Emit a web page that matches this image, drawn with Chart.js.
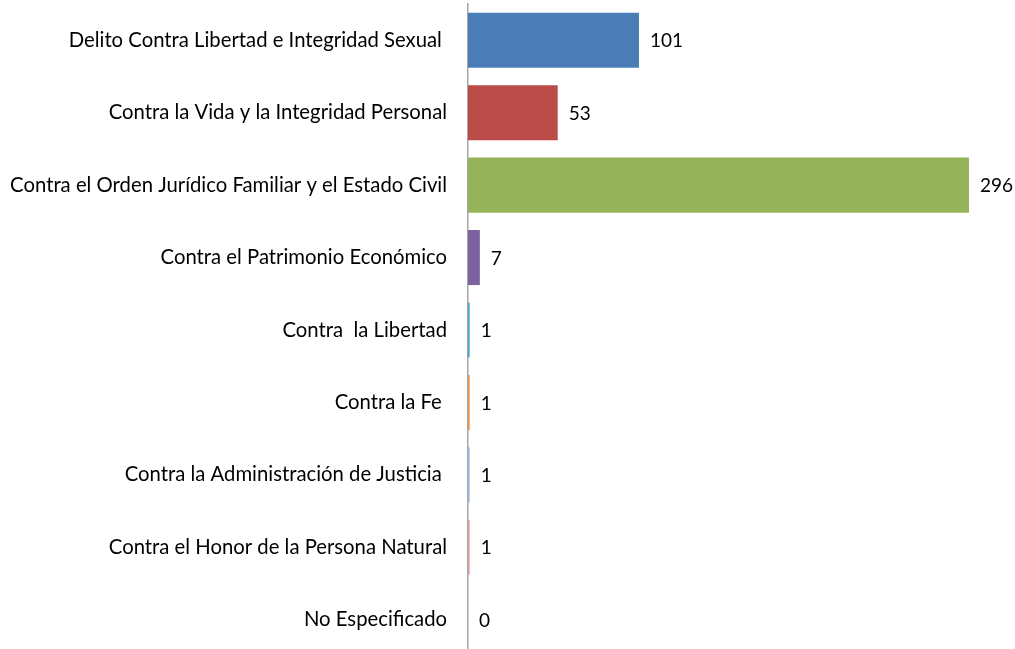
<!DOCTYPE html>
<html>
<head>
<meta charset="utf-8">
<script src="https://cdn.jsdelivr.net/npm/chart.js@4.4.0/dist/chart.umd.min.js"></script>
<style>
  html, body { margin: 0; padding: 0; background: #fff; overflow: hidden; }
  #wrap { width: 1015px; height: 656px; }
</style>
</head>
<body>
<div id="wrap"><canvas id="chart" width="1015" height="656"></canvas></div>
<script>
// categories and values
const categories = [
  'Delito Contra Libertad e Integridad Sexual ',
  'Contra la Vida y la Integridad Personal',
  'Contra el Orden Jurídico Familiar y el Estado Civil',
  'Contra el Patrimonio Económico',
  'Contra  la Libertad',
  'Contra la Fe ',
  'Contra la Administración de Justicia ',
  'Contra el Honor de la Persona Natural',
  'No Especificado'
];
const counts = [101, 53, 296, 7, 1, 1, 1, 1, 0];
const barColors = ['#4A7CB6', '#BA4D4A', '#95B35A', '#7E62A0', '#4BA9C4', '#F0924A', '#A3B8DC', '#E0A0A0', '#C0C0C0'];

const FONT = 'Lato, "Open Sans", sans-serif';

// draws the number at the end of each bar
const valueLabels = {
  id: 'valueLabels',
  afterDatasetsDraw(chart) {
    const ctx = chart.ctx;
    const meta = chart.getDatasetMeta(0);
    ctx.save();
    ctx.font = '19px ' + FONT;
    ctx.fillStyle = '#000';
    ctx.textAlign = 'left';
    ctx.textBaseline = 'middle';
    meta.data.forEach((bar, i) => {
      ctx.fillText(String(counts[i]), bar.x + 11, bar.y + 1);
    });
    ctx.restore();
  }
};

new Chart(document.getElementById('chart'), {
  type: 'bar',
  data: {
    labels: categories,
    datasets: [{
      data: counts,
      backgroundColor: barColors,
      borderWidth: 0,
      barPercentage: 0.76,
      categoryPercentage: 1
    }]
  },
  options: {
    indexAxis: 'y',
    responsive: false,
    animation: false,
    layout: { padding: { top: 4, right: 46, bottom: 0, left: 0 } },
    plugins: { legend: { display: false }, tooltip: { enabled: false } },
    scales: {
      x: {
        display: false,
        min: 0,
        max: 296
      },
      y: {
        grid: { display: false, drawTicks: false },
        border: { display: true, color: '#A6A6A6', width: 1.5 },
        ticks: {
          color: '#000',
          font: { family: FONT, size: 20.3 },
          padding: 21
        },
        afterFit(axis) {
          axis.width = 468;
          axis.paddingTop = 0;
          axis.paddingBottom = 0;
        }
      }
    }
  },
  plugins: [valueLabels]
});
</script>
</body>
</html>
